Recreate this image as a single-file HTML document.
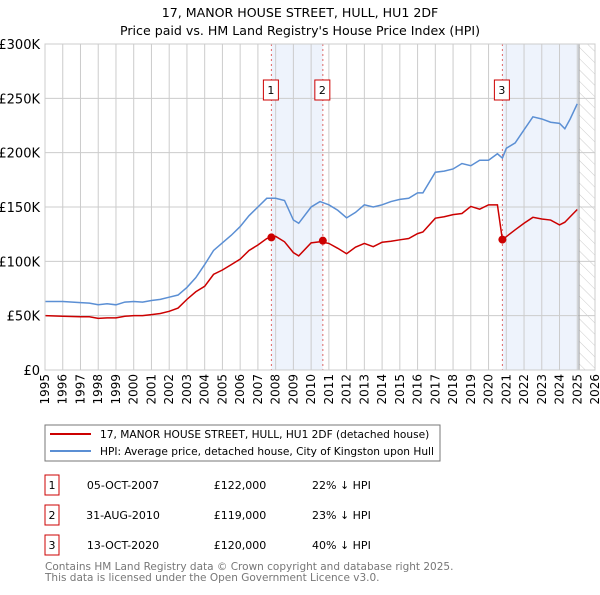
<!DOCTYPE html>
<html><head><meta charset="utf-8"><style>
body{margin:0;background:#fff;font-family:"Liberation Sans",sans-serif;}
svg text{font-family:"DejaVu Sans","Liberation Sans",sans-serif;}
</style></head><body>
<svg id="c" width="600" height="590" xmlns="http://www.w3.org/2000/svg">
<defs><pattern id="hatch" width="8" height="8" patternUnits="userSpaceOnUse" patternTransform="rotate(-45)"><line x1="0" y1="0" x2="0" y2="8" stroke="#ccc" stroke-width="1"/></pattern></defs>
<text x="300" y="17" font-size="12.6" text-anchor="middle">17, MANOR HOUSE STREET, HULL, HU1 2DF</text>
<text x="300" y="35" font-size="12.6" text-anchor="middle">Price paid vs. HM Land Registry's House Price Index (HPI)</text>
<g id="plot"></g>
<rect x="45" y="425" width="395" height="36" fill="#fff" stroke="#777"/>
<line x1="50" y1="434" x2="91" y2="434" stroke="#cc0000" stroke-width="2"/>
<text x="100" y="438" font-size="10.6">17, MANOR HOUSE STREET, HULL, HU1 2DF (detached house)</text>
<line x1="50" y1="451" x2="91" y2="451" stroke="#5b8fd4" stroke-width="2"/>
<text x="100" y="455" font-size="10.6">HPI: Average price, detached house, City of Kingston upon Hull</text>
<g font-size="11">
<rect x="45" y="475" width="14" height="20" fill="#fff" stroke="#cc0000"/><text x="52" y="489" text-anchor="middle">1</text>
<text x="123" y="489" text-anchor="middle">05-OCT-2007</text><text x="240" y="489" text-anchor="middle">£122,000</text><text x="312" y="489">22% ↓ HPI</text>
<rect x="45" y="505" width="14" height="20" fill="#fff" stroke="#cc0000"/><text x="52" y="519" text-anchor="middle">2</text>
<text x="123" y="519" text-anchor="middle">31-AUG-2010</text><text x="240" y="519" text-anchor="middle">£119,000</text><text x="312" y="519">23% ↓ HPI</text>
<rect x="45" y="535" width="14" height="20" fill="#fff" stroke="#cc0000"/><text x="52" y="549" text-anchor="middle">3</text>
<text x="123" y="549" text-anchor="middle">13-OCT-2020</text><text x="240" y="549" text-anchor="middle">£120,000</text><text x="312" y="549">40% ↓ HPI</text>
</g>
<text x="45" y="570" font-size="10.5" fill="#777">Contains HM Land Registry data © Crown copyright and database right 2025.</text>
<text x="45" y="581" font-size="10.5" fill="#777">This data is licensed under the Open Government Licence v3.0.</text>
</svg>
<script>
const years=[1995,1996,1997,1997.5,1998,1998.5,1999,1999.5,2000,2000.5,2001,2001.5,2002,2002.5,2003,2003.5,2004,2004.5,2005,2005.5,2006,2006.5,2007,2007.5,2008,2008.5,2009,2009.3,2010,2010.5,2011,2011.5,2012,2012.5,2013,2013.5,2014,2014.5,2015,2015.5,2016,2016.3,2017,2017.5,2018,2018.5,2019,2019.5,2020,2020.5,2020.78,2021,2021.5,2022,2022.5,2023,2023.5,2024,2024.3,2024.6,2025];
const hpi=[63,63,62,61.5,60,61,60,62.5,63,62.5,64,65,67,69,76,85,97,110,117,124,132,142,150,158,158,156,138,135,150,155,152,147,140,145,152,150,152,155,157,158,163,163,182,183,185,190,188,193,193,199,195,204,209,221,233,231,228,227,222,231,245];
const price=[50,49.5,49,49,47.5,48,48,49.5,50,50,51,52,54,57,65,72,77,88,92,97,102,110,115,121,123,118,108,105,117,118,116.5,112,107,113,116.5,113.5,117.6,118.5,119.8,121,125.5,127,139.7,141,143,144,150.5,148,152,152,120,122.7,129,135,140.5,139,138,133.5,136,141,147.7];
const sales=[{t:2007.76,v:122,n:"1"},{t:2010.66,v:119,n:"2"},{t:2020.78,v:120,n:"3"}];
const yTicks=[0,50,100,150,200,250,300];
const yLabels=["£0","£50K","£100K","£150K","£200K","£250K","£300K"];
const X0=45,X1=595,Y0=370,Y1=44;
const xs=t=>X0+(t-1995)*(X1-X0)/31;
const ys=v=>Y0-v*(Y0-Y1)/300;
const NS="http://www.w3.org/2000/svg";
const g=document.getElementById('plot');
function mk(tag,attrs,parent){const e=document.createElementNS(NS,tag);for(const k in attrs)e.setAttribute(k,attrs[k]);(parent||g).appendChild(e);return e;}
let e=mk('rect',{x:xs(sales[0].t),y:Y1,width:xs(sales[1].t)-xs(sales[0].t),height:Y0-Y1,fill:'#eef3fc'});


e=mk('rect',{x:xs(sales[2].t),y:Y1,width:xs(2025.1)-xs(sales[2].t),height:Y0-Y1,fill:'#eef3fc'});


e=mk('rect',{x:xs(2025.1),y:Y1,width:X1-xs(2025.1),height:Y0-Y1,fill:'url(#hatch)'});


for(let yr=1995;yr<=2026;yr++){
 e=mk('line',{x1:xs(yr),x2:xs(yr),y1:Y1,y2:Y0,stroke:'#ccc','stroke-width':1});
 
 
 e=mk('text',{x:0,y:0,'font-size':12,'text-anchor':'end',transform:`translate(${xs(yr)+4},374) rotate(-90)`});
 e.textContent=yr;
 
 
}
yTicks.forEach((v,i)=>{
 e=mk('line',{x1:X0,x2:X1,y1:ys(v),y2:ys(v),stroke:'#ccc','stroke-width':1});
 
 
 e=mk('text',{x:40,y:ys(v)+5,'font-size':13,'text-anchor':'end'});
 e.textContent=yLabels[i];
 
 
});
e=mk('line',{x1:xs(2025.1),x2:xs(2025.1),y1:Y1,y2:Y0,stroke:'#999','stroke-width':1});


sales.forEach(s=>{
 e=mk('line',{x1:xs(s.t),x2:xs(s.t),y1:Y1,y2:Y0,stroke:'#e06666','stroke-width':1,'stroke-dasharray':'2,3'});
 
 
});
e=mk('polyline',{points:years.map((t,i)=>xs(t)+','+ys(hpi[i])).join(' '),fill:'none',stroke:'#5b8fd4','stroke-width':1.5});


e=mk('polyline',{points:years.map((t,i)=>xs(t)+','+ys(price[i])).join(' '),fill:'none',stroke:'#cc0000','stroke-width':1.5});


sales.forEach(s=>{
 e=mk('circle',{cx:xs(s.t),cy:ys(s.v),r:4,fill:'#cc0000'});
 
 
 e=mk('rect',{x:xs(s.t)-8,y:80,width:15,height:20,fill:'#fff',stroke:'#cc0000'});
 
 
 e=mk('text',{x:xs(s.t)-0.5,y:94,'font-size':11,'text-anchor':'middle'});
 e.textContent=s.n;
 
 
});
e=mk('rect',{x:X0,y:Y1,width:X1-X0,height:Y0-Y1,fill:'none',stroke:'#ccc'});


</script>
</body></html>
